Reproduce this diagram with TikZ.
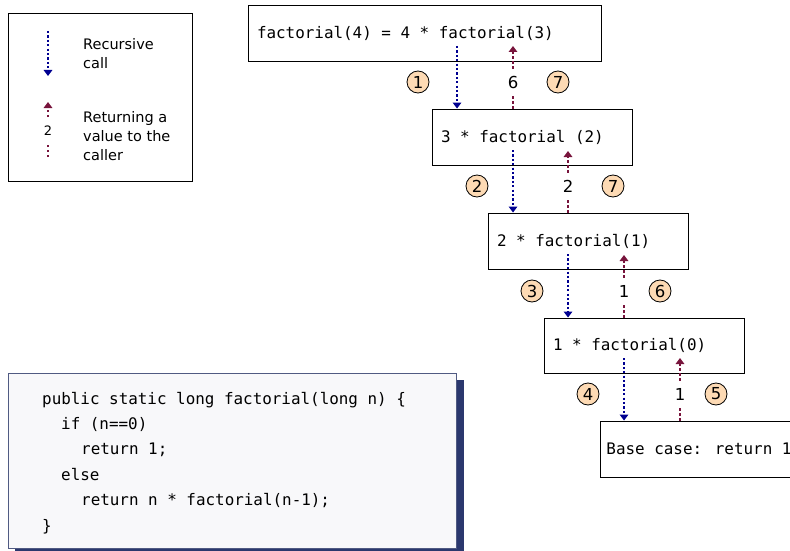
\documentclass[tikz,border=0pt]{standalone}
\usepackage{fontspec}
\setmainfont{DejaVu Sans}
\newfontfamily\monofont{DejaVu Sans Mono}
\usetikzlibrary{arrows.meta}
\definecolor{callc}{RGB}{0,0,145}
\definecolor{retc}{RGB}{120,20,60}
\definecolor{peach}{RGB}{253,218,180}
\definecolor{codebg}{RGB}{248,248,250}
\definecolor{codeedge}{RGB}{80,90,130}
\definecolor{shadowc}{RGB}{43,56,110}
\begin{document}
\begin{tikzpicture}[x=1pt,y=-1pt,
  box/.style={draw,line width=0.9pt,fill=white,inner xsep=9pt,inner ysep=0pt,
    font=\monofont\fontsize{15.9}{18}\selectfont},
  call/.style={draw=callc,line width=2.4pt,dash pattern=on 2.2pt off 2.2pt,
    -{Triangle[length=6pt,width=8.5pt]}},
  ret/.style={draw=retc,line width=2.4pt,dash pattern=on 2.4pt off 2.6pt,
    -{Triangle[length=6pt,width=8.5pt]}},
  num/.style={circle,draw,line width=0.8pt,fill=peach,minimum size=22pt,inner sep=0pt,
    font=\fontsize{16.5}{16.5}\selectfont},
  val/.style={fill=white,inner xsep=2pt,inner ysep=6pt,font=\fontsize{16.5}{16.5}\selectfont},
  legtext/.style={anchor=west,align=left,inner sep=0pt,font=\fontsize{14.5}{19}\selectfont},
  codeline/.style={anchor=base west,inner sep=0pt,font=\monofont\fontsize{15.9}{18}\selectfont}
]
\useasboundingbox (0,0) rectangle (790,551);
\clip (0,0) rectangle (790,551);

% legend
\node[draw,line width=0.9pt,minimum width=184pt,minimum height=168pt] (legend) at (100,97) {};
\coordinate (lc1) at (48,31);
\coordinate (lc2) at (48,76);
\draw[call] (lc1) -- (lc2);
\coordinate (lr1) at (48,157);
\coordinate (lr2) at (48,102);
\draw[ret] (lr1) -- (lr2);
\node[fill=white,inner xsep=2pt,inner ysep=8pt,font=\fontsize{13}{13}\selectfont] (l2) at (48,131) {2};
\node[legtext] (lt1) at (83,53.5) {Recursive\\call};
\node[legtext] (lt2) at (83,136) {Returning a\\value to the\\caller};

% boxes
\node[box,minimum width=353pt,minimum height=56pt] (b1) at (424.5,33) {\makebox[335pt][l]{factorial(4) = 4 * factorial(3)}};
\node[box,minimum width=200pt,minimum height=56pt] (b2) at (532,137) {\makebox[182pt][l]{3 * factorial (2)}};
\node[box,minimum width=200pt,minimum height=56pt] (b3) at (588,241) {\makebox[182pt][l]{2 * factorial(1)}};
\node[box,minimum width=200pt,minimum height=55pt] (b4) at (644,345.5) {\makebox[182pt][l]{1 * factorial(0)}};
\node[box,anchor=west,inner xsep=6pt,minimum width=230pt,minimum height=56pt] (b5) at (600,449) {\makebox[218pt][l]{Base case: return 1}};

% arrows level 1
\coordinate (c1) at (457,46);
\coordinate (r1) at (513,46);
\draw[call] (c1) -- (c1 |- b2.north);
\draw[ret] (r1 |- b2.north) -- (r1);
% level 2
\coordinate (c2) at (513,150);
\coordinate (r2) at (568,151);
\draw[call] (c2) -- (c2 |- b3.north);
\draw[ret] (r2 |- b3.north) -- (r2);
% level 3
\coordinate (c3) at (568,254);
\coordinate (r3) at (624,255);
\draw[call] (c3) -- (c3 |- b4.north);
\draw[ret] (r3 |- b4.north) -- (r3);
% level 4
\coordinate (c4) at (624,358);
\coordinate (r4) at (680,358);
\draw[call] (c4) -- (c4 |- b5.north);
\draw[ret] (r4 |- b5.north) -- (r4);

% values
\node[val] (v1) at (513,82) {6};
\node[val] (v2) at (568,186) {2};
\node[val] (v3) at (624,291) {1};
\node[val] (v4) at (680,394) {1};

% step numbers
\node[num] (n1) at (418,82) {1};
\node[num] (n7a) at (558,82) {7};
\node[num] (n2) at (477,186) {2};
\node[num] (n7b) at (613,186) {7};
\node[num] (n3) at (532,291) {3};
\node[num] (n6) at (660,291) {6};
\node[num] (n4) at (588,394) {4};
\node[num] (n5) at (716,394) {5};

% code box
\fill[shadowc] (15,380) rectangle (464,552);
\node[draw=codeedge,line width=0.8pt,fill=codebg,minimum width=448pt,minimum height=175pt] (code) at (232,460.5) {};
\node[codeline] (k1) at (42,404) {public static long factorial(long n) \{};
\node[codeline] (k2) at (61,429.4) {if (n==0)};
\node[codeline] (k3) at (81,454.8) {return 1;};
\node[codeline] (k4) at (61,480.2) {else};
\node[codeline] (k5) at (81,505.6) {return n * factorial(n-1);};
\node[codeline] (k6) at (42,531) {\}};
\end{tikzpicture}
\end{document}
